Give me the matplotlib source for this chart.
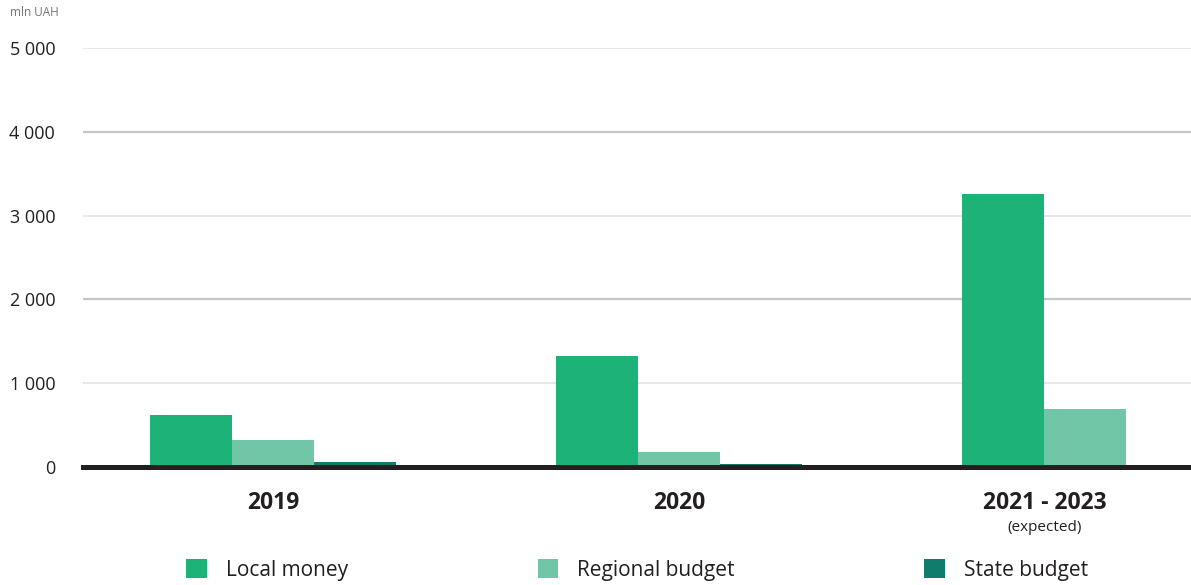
import matplotlib.pyplot as plt
from matplotlib.patches import Patch
import numpy as np

plt.rcParams['font.family'] = ['Open Sans', 'DejaVu Sans']

periods = ["2019", "2020", "2021 - 2023"]
local_money = [620, 1325, 3260]
regional_budget = [322, 180, 690]
state_budget = [58, 38, 0]
yticks = [0, 1000, 2000, 3000, 4000, 5000]

colors = ["#1db378", "#70c6a6", "#107c6c"]
names = ["Local money", "Regional budget", "State budget"]

fig = plt.figure(figsize=(11.91, 5.85), dpi=100)
ax = fig.add_axes([0.0697, 0.2017, 0.9303, 0.716])

x = np.arange(len(periods))
w = 0.202
for i, (vals, c) in enumerate(zip([local_money, regional_budget, state_budget], colors)):
    ax.bar(x + (i - 1) * w, vals, width=w, color=c, zorder=3, linewidth=0)

for t in yticks[1:]:
    shade = "#c6c6c6" if t in (2000, 4000) else "#e3e3e3"
    lw = 1.6 if t in (2000, 4000) else 1.2
    ax.axhline(t, color=shade, lw=lw, zorder=1)
ax.axhline(0, color="#231f20", lw=3.6, zorder=4, clip_on=False)

# last group has only two bars, so its label sits between them
label_pos = [0, 1, 2 - w / 2]

ax.set_xlim(-0.468, 2.26)
ax.set_ylim(0, 5000)
ax.set_yticks(yticks)
ax.set_yticklabels([f"{v:,}".replace(",", " ") for v in yticks], fontsize=13, color="#231f20")
ax.set_xticks(label_pos)
ax.set_xticklabels(periods, fontsize=16.5, fontweight="bold", color="#231f20")
ax.tick_params(axis="y", length=0, pad=20)
ax.tick_params(axis="x", length=0, pad=17)
for s in ax.spines.values():
    s.set_visible(False)

ax.text(label_pos[2], -0.127, "(expected)", transform=ax.get_xaxis_transform(), ha="center", va="top",
        fontsize=11, color="#231f20")
fig.text(0.008, 0.978, "mln UAH", fontsize=8.5, color="#777777", va="center")

handles = [Patch(facecolor=c, edgecolor="none") for c in colors]
fig.legend(handles, names, loc="center", bbox_to_anchor=(0.535, 0.026), ncol=3, frameon=False,
           fontsize=15, handlelength=1.0, handleheight=1.0, handletextpad=0.9,
           columnspacing=9.1, labelcolor="#231f20")

fig.savefig("out.png", dpi=100)
